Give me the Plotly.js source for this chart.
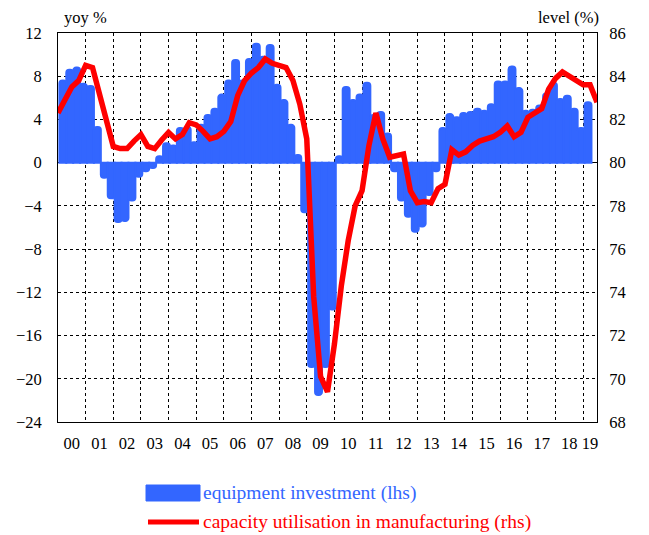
<!DOCTYPE html>
<html>
<head>
<meta charset="utf-8">
<script src="https://cdn.plot.ly/plotly-3.0.1.min.js"></script>
<style>
  html, body { margin: 0; padding: 0; background: #fff; }
  #chart { width: 649px; height: 535px; }
</style>
</head>
<body>
<div id="chart"></div>
<script>
// ---- data ----
const startYear = 2000;
const yearLabels = ['00','01','02','03','04','05','06','07','08','09','10','11','12','13','14','15','16','17','18','19'];

// Equipment investment, yoy %, quarterly 2000Q1 .. 2019Q1 (lhs)
const equipmentInvestment = [
  7.6, 8.6, 8.8, 7.3,
  7.1, 3.3, -1.4, -3.3,
  -5.5, -5.4, -3.5, -1.3,
  -0.8, -0.5, 0.6, 1.8,
  1.6, 3.2, 3.3, 1.9,
  3.5, 4.4, 5.0, 6.3,
  7.6, 9.5, 7.6, 9.6,
  11.0, 9.8, 10.9, 7.2,
  5.8, 3.5, 0.7, -4.6,
  -18.9, -21.5, -18.9, -13.6,
  0.6, 7.0, 5.8, 6.3,
  7.4, 4.4, 4.7, 2.7,
  -0.8, -3.5, -5.0, -6.4,
  -5.9, -3.0, -0.8, 3.2,
  4.5, 4.2, 4.6, 4.7,
  5.0, 4.8, 5.4, 7.5,
  7.5, 8.9, 6.9, 4.8,
  4.9, 5.3, 6.4, 7.4,
  5.9, 6.2, 5.0, 3.2,
  5.6
];

// Capacity utilisation in manufacturing, level %, quarterly 2000Q1 .. 2019Q3 (rhs)
const capacityUtilisation = [
  82.3, 82.9, 83.5, 83.8,
  84.5, 84.4, 83.2, 82.0,
  80.75, 80.65, 80.65, 81.0,
  81.3, 80.75, 80.65, 81.05,
  81.4, 81.1, 81.3, 81.85,
  81.75, 81.45, 81.1, 81.2,
  81.45, 81.9, 83.1, 83.8,
  84.15, 84.4, 84.8, 84.6,
  84.5, 84.4, 83.8, 82.7,
  81.1, 73.8, 70.1, 69.4,
  71.6, 74.3, 76.4, 78.0,
  78.7, 80.8, 82.3, 81.1,
  80.25, 80.3, 80.4, 78.7,
  78.15, 78.2, 78.15, 78.8,
  79.0, 80.6, 80.35, 80.5,
  80.8, 81.0, 81.1, 81.2,
  81.4, 81.7, 81.2, 81.4,
  82.1, 82.3, 82.5, 83.4,
  83.9, 84.2, 84.0, 83.8,
  83.6, 83.6, 82.8
];

const leftTicks = [-24, -20, -16, -12, -8, -4, 0, 4, 8, 12];
const rightTicks = [68, 70, 72, 74, 76, 78, 80, 82, 84, 86];
const seriesNames = ['equipment investment (lhs)', 'capacity utilisation in manufacturing (rhs)'];

// ---- styling ----
const BLUE = '#3366FF';
const RED = '#FF0000';
const FONT = '"Liberation Serif", serif';
const X_END = 2019.5;

// quarter positions on a numeric year axis
const barX = equipmentInvestment.map((_, i) => startYear + i / 4 + 0.125 + 0.05);
const lineX = capacityUtilisation.map((_, i) => startYear + i / 4);
// year label sits in the middle of the visible part of each year
const labelX = yearLabels.map((_, i) => {
  const y0 = startYear + i;
  return (y0 + Math.min(y0 + 1, X_END)) / 2;
});

const traces = [
  {
    type: 'bar',
    name: seriesNames[0],
    x: barX,
    y: equipmentInvestment,
    width: 0.25,
    marker: { color: BLUE, line: { color: BLUE, width: 2 }, cornerradius: 3 },
    yaxis: 'y',
    hoverinfo: 'skip'
  },
  {
    type: 'scatter',
    mode: 'lines',
    name: seriesNames[1],
    x: lineX,
    y: capacityUtilisation,
    line: { color: RED, width: 5.5 },
    yaxis: 'y2',
    hoverinfo: 'skip'
  }
];

const L = 58, R = 52, T = 33, B = 113, W = 649, H = 535;
const pw = W - L - R, ph = H - T - B;
const px = (x) => (x - L) / pw;        // pixel -> paper x
const py = (y) => (H - B - y) / ph;    // pixel -> paper y

const layout = {
  width: W, height: H,
  margin: { l: L, r: R, t: T, b: B, pad: 0 },
  paper_bgcolor: '#fff', plot_bgcolor: '#fff',
  showlegend: false,
  bargap: 0,
  font: { family: FONT, size: 16, color: '#000' },
  xaxis: {
    range: [startYear, X_END],
    tickmode: 'array',
    tickvals: labelX,
    ticktext: yearLabels,
    ticks: 'outside', ticklen: 6, tickcolor: 'rgba(0,0,0,0)',
    showgrid: false,
    minor: { tickmode: 'linear', tick0: 2000, dtick: 1, showgrid: true, griddash: 'dot', gridcolor: '#000', gridwidth: 1, ticks: '' },
    showline: true, mirror: true, linecolor: '#000', linewidth: 1,
    zeroline: false,
    tickfont: { family: FONT, size: 16.5, color: '#000' },
    fixedrange: true
  },
  yaxis: {
    range: [-24, 12],
    tickmode: 'array', tickvals: leftTicks,
    ticks: 'outside', ticklen: 12, tickcolor: 'rgba(0,0,0,0)',
    showgrid: true, griddash: 'dot', gridcolor: '#000', gridwidth: 1,
    zeroline: true, zerolinecolor: '#000', zerolinewidth: 1.5,
    showline: true, mirror: true, linecolor: '#000', linewidth: 1,
    tickfont: { family: FONT, size: 16.5, color: '#000' },
    fixedrange: true
  },
  yaxis2: {
    overlaying: 'y', side: 'right',
    range: [68, 86],
    tickmode: 'array', tickvals: rightTicks,
    ticks: 'outside', ticklen: 8, tickcolor: 'rgba(0,0,0,0)',
    showgrid: false, zeroline: false, showline: false,
    tickfont: { family: FONT, size: 16.5, color: '#000' },
    fixedrange: true
  },
  annotations: [
    { text: 'yoy %', xref: 'paper', yref: 'paper', x: px(62), y: py(18), xanchor: 'left', yanchor: 'middle', showarrow: false, font: { family: FONT, size: 16.5, color: '#000' } },
    { text: 'level (%)', xref: 'paper', yref: 'paper', x: px(601), y: py(18), xanchor: 'right', yanchor: 'middle', showarrow: false, font: { family: FONT, size: 16.5, color: '#000' } },
    { text: seriesNames[0], xref: 'paper', yref: 'paper', x: px(201), y: py(493), xanchor: 'left', yanchor: 'middle', showarrow: false, font: { family: FONT, size: 19.5, color: BLUE } },
    { text: seriesNames[1], xref: 'paper', yref: 'paper', x: px(201), y: py(522), xanchor: 'left', yanchor: 'middle', showarrow: false, font: { family: FONT, size: 19.5, color: RED } }
  ],
  shapes: [
    { type: 'rect', xref: 'paper', yref: 'paper', x0: px(146), x1: px(200), y0: py(501), y1: py(485), fillcolor: BLUE, line: { color: BLUE, width: 1 } },
    { type: 'line', xref: 'paper', yref: 'paper', x0: px(148), x1: px(199), y0: py(522), y1: py(522), line: { color: RED, width: 5 } }
  ]
};

Plotly.newPlot('chart', traces, layout, { displayModeBar: false, staticPlot: true });
</script>
</body>
</html>
